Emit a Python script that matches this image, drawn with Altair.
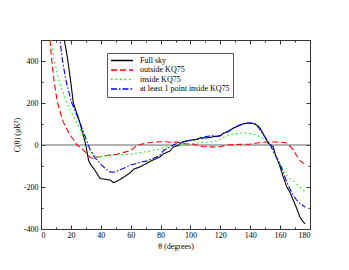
import altair as alt
import pandas as pd

series_names = ["Full sky", "outside KQ75", "inside KQ75", "at least 1 point inside KQ75"]
series_colors = ["#000000", "#ff0000", "#00ee00", "#0000ff"]
series_dash = [[1, 0], [6, 3], [1.5, 3], [6, 2, 1.5, 2]]

full_theta = [10, 13, 15.6, 17.8, 19.8, 21.6, 26, 30, 31.8, 33, 36, 39.6, 43, 46.3, 48.4, 50, 53, 56, 59.7, 62,
              66.4, 70, 73, 76, 79.7, 82, 86.4, 88.5, 92, 95, 98, 101, 104, 107, 110, 113, 116, 118, 120, 122,
              125, 128.6, 131, 135, 138, 141, 143, 145, 146.6, 149, 152, 155.3, 157, 160, 162, 164.4, 166.6,
              168.8, 171, 173.3, 175, 176.7]
full_c = [900, 650, 500, 410, 306, 202, 107, 0, -72, -90, -120, -160, -163, -167, -179, -175, -164, -150, -132, -115,
          -104, -90, -78, -68, -56, -42, -28, -10, -2, 16, 20, 24, 27, 35, 33, 36, 40, 42, 43, 56,
          62, 80, 88, 100, 104, 103, 100, 92, 80, 50, 8, -8, -50, -104, -150, -199, -225,
          -263, -300, -343, -362, -375]

out_theta = [3, 6, 7.1, 8.7, 11, 14.9, 17, 19.6, 21.8, 24, 26, 28.5, 31, 33, 35, 37, 39.6, 43, 46.3, 50, 53, 56,
             59.7, 62, 64, 66.4, 70, 73, 77, 82, 86.4, 91, 95, 97.6, 100, 104, 108.5, 112, 117.6, 120, 124, 126.5,
             133, 140, 146.6, 152, 157.7, 162, 164.4, 166.6, 168.8, 171, 173.3, 175, 176.7]
out_c = [800, 500, 410, 306, 202, 110, 80, 45, 25, 0, -10, -24, -45, -60, -64, -58, -56, -52, -48, -45, -40, -34,
         -28, -15, -2, 2, 8, 12, 14, 16, 13, 14, 8, 5, 6, 0, -8, -9, -10, -8, 0, 1,
         3, 4, 12, 14, 14, 12, 10, -5, -24, -50, -75, -85, -88]

in_theta = [4, 6.7, 8.7, 12, 17.1, 23.8, 28.3, 30, 33, 35, 37.4, 40, 43, 46.3, 50, 55, 59.7, 65, 70, 73, 78, 82,
            86.4, 90, 95, 100, 104, 108, 113, 117, 120, 124, 128, 133, 137, 140, 143, 146.6, 149, 151, 153, 155,
            157, 160, 162, 164.4, 166.6, 168.8, 171, 173, 175.4, 177]
in_c = [800, 500, 410, 306, 202, 107, 48, 0, -24, -45, -56, -55, -50, -48, -46, -46, -45, -38, -32, -28, -22, -12,
        -5, 0, 3, 6, 8, 12, 14, 20, 27, 45, 52, 56, 57, 55, 50, 40, 28, 16, 0, -24,
        -55, -92, -118, -144, -160, -170, -185, -200, -215, -222]

one_theta = [8, 12.7, 14.2, 16.7, 20.5, 26, 31.6, 33, 36, 39.6, 43, 46, 48.4, 51, 55, 60, 64, 67, 70.8, 74, 77,
             79.7, 82, 86, 91, 95, 99.8, 104, 108.5, 110, 113, 116, 118, 120, 122, 125, 128, 131, 135, 138, 141,
             144, 146.6, 149, 153, 156, 160, 162, 164.4, 166.6, 168.8, 171, 173.3, 176.7]
one_c = [800, 500, 410, 306, 202, 107, 0, -24, -60, -88, -112, -128, -130, -124, -112, -95, -88, -80, -77, -66, -58,
         -48, -26, -10, 8, 14, 21, 26, 32, 40, 43, 45, 40, 46, 56, 65, 78, 88, 102, 105, 104,
         100, 72, 45, 8, -40, -88, -130, -175, -210, -239, -262, -279, -295]

x_major = [0, 20, 40, 60, 80, 100, 120, 140, 160, 180]
x_minor = [10, 30, 50, 70, 90, 110, 130, 150, 170]
y_major = [-400, -200, 0, 200, 400]
y_minor = [-300, -100, 100, 300]

rows = []
for name, th, cv in [(series_names[0], full_theta, full_c), (series_names[1], out_theta, out_c),
                     (series_names[2], in_theta, in_c), (series_names[3], one_theta, one_c)]:
    for t, c in zip(th, cv):
        rows.append({"theta": t, "C": c, "series": name})
df = pd.DataFrame(rows)
zero_df = pd.DataFrame({"z": [0]})

FONT = "Liberation Serif"
xs = alt.Scale(domain=[0, 180], nice=False, zero=False)
ys = alt.Scale(domain=[-400, 500], nice=False, zero=False)

MAJ = 4
MIN = 2


def ax(orient, values, size, labels=False, title=None, label_pad=2, title_pad=2):
    kw = dict(orient=orient, values=values, tickSize=size, offset=-size, domain=False,
              labels=labels, tickColor="#333333", tickWidth=1, grid=False)
    if labels:
        kw.update(labelFont=FONT, labelFontSize=8, labelColor="#000000", labelPadding=label_pad,
                  labelExpr="replace(datum.label, '\u2212', '-')")
    if title:
        kw.update(title=title, titleFont=FONT, titleFontSize=8, titleFontWeight="normal",
                  titleColor="#000000", titlePadding=title_pad)
    else:
        kw.update(title=None)
    return alt.Axis(**kw)


leg = alt.Legend(title=None, orient="none", legendX=66, legendY=13)

lines = alt.Chart(df).mark_line(clip=True, strokeWidth=1.1).encode(
    x=alt.X("theta:Q", scale=xs, axis=ax("bottom", x_major, MAJ, labels=True, title="θ (degrees)",
                                          label_pad=2, title_pad=3)),
    y=alt.Y("C:Q", scale=ys, axis=ax("left", y_major, MAJ, labels=True, title="C(θ) (μK²)",
                                      label_pad=3, title_pad=2)),
    color=alt.Color("series:N", scale=alt.Scale(domain=series_names, range=series_colors), legend=leg),
    strokeDash=alt.StrokeDash("series:N", scale=alt.Scale(domain=series_names, range=series_dash), legend=leg),
    order=alt.Order("theta:Q"),
)


def tick_layer(xaxis, yaxis):
    return alt.Chart(df).mark_point(opacity=0, clip=True).encode(
        x=alt.X("theta:Q", scale=xs, axis=xaxis),
        y=alt.Y("C:Q", scale=ys, axis=yaxis),
    )


l_minor = tick_layer(ax("bottom", x_minor, MIN), ax("left", y_minor, MIN))
l_top = tick_layer(ax("top", x_major, MAJ), ax("right", y_major, MAJ))
l_top_minor = tick_layer(ax("top", x_minor, MIN), ax("right", y_minor, MIN))

zero = alt.Chart(zero_df).mark_rule(color="#666666", strokeWidth=1).encode(
    y=alt.Y("z:Q", scale=ys, axis=None)
)

chart = alt.layer(zero, lines, l_minor, l_top, l_top_minor).resolve_axis(
    x="independent", y="independent"
).properties(
    width=269, height=189,
    padding={"left": 33, "top": 32, "right": 31, "bottom": 41},
    autosize=alt.AutoSizeParams(type="none"),
).configure_view(
    stroke="#333333", strokeWidth=1
).configure_legend(
    labelFont=FONT, labelFontSize=8, labelColor="#000000",
    symbolType="stroke", symbolSize=484, symbolStrokeWidth=1.5,
    strokeColor="#555555", fillColor="#ffffff", padding=3, rowPadding=0.5,
    labelOffset=6, clipHeight=9,
)

chart.save("out.html", embed_options={"renderer": "svg", "actions": False})
